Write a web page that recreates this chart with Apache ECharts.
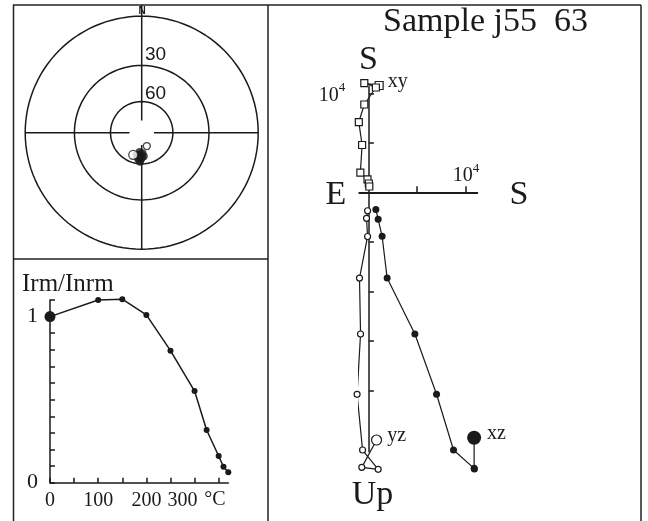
<!DOCTYPE html>
<html>
<head>
<meta charset="utf-8">
<script src="https://cdn.jsdelivr.net/npm/echarts@6/dist/echarts.min.js"></script>
<style>
html,body{margin:0;padding:0;background:#fff;}
#chart{width:648px;height:521px;}
</style>
</head>
<body>
<div id="chart"></div>
<script>
/* ---------- data ---------- */
// stereonet: declination / inclination (deg)
const stereoFilledDec = [178, 184, 190, 181, 187, 175, 193, 183, 180, 186];
const stereoFilledInc = [70, 68, 66, 65, 64, 67, 68, 62, 66, 71];
const stereoOpenDec = [159, 201];
const stereoOpenInc = [-76, -67];
const stereoCircleIncs = [0, 30, 60];

// thermal demagnetisation steps
const temps = [0, 100, 150, 200, 250, 300, 325, 350, 360, 370];
const irmRatio = [1.0, 1.10, 1.105, 1.01, 0.795, 0.552, 0.317, 0.161, 0.096, 0.063];
const irmTicksX = [0, 50, 100, 150, 200, 250, 300, 350];
const irmLabelsX = [0, 100, 200, 300];
const irmTicksY = [0, 0.1, 0.2, 0.3, 0.4, 0.5, 0.6, 0.7, 0.8, 0.9, 1.0, 1.1];
const irmLabelsY = [0, 1];

// Zijderveld components (same step order as temps)
const xyH = [1060, -480, 720, -480, -1050, -710, -890, -150, -10, 40];
const xyV = [10790, 11040, 10590, 8870, 7100, 4780, 2000, 1310, 890, 590];
const xzH = [10920, 10920, 10950, 8780, 7020, 4770, 1890, 1370, 960, 720];
const xzV = [-24790, -27880, -27950, -26030, -20400, -14310, -8660, -4440, -2730, -1740];
const yzH = [790, -740, 960, -660, -1230, -870, -980, -140, -250, -140];
const yzV = [-25020, -27780, -27980, -26030, -20400, -14310, -8660, -4460, -2630, -1860];
const zijTicksX = [5000, 10000];
const zijTicksY = [-20000, -15000, -10000, -5000, 5000, 10000];
const zijLabels = [10000];

/* ---------- helpers ---------- */
const serif = 'Liberation Serif';
const sans = 'Liberation Sans';
const ink = '#1a1a1a';
const R = 116.5;
function stereoR(inc){ return Math.tan((90 - Math.abs(inc)) / 2 * Math.PI / 180); }
function circle(inc){
  const r = stereoR(inc), pts = [];
  for(let a = 0; a <= 360; a += 3) pts.push([r, a]);
  return pts;
}
function pair(h, v){ return h.map((x, i) => [x, v[i]]); }
const supRich = {
  n:{fontFamily:serif, fontSize:20, color:ink, lineHeight:24, verticalAlign:'bottom'},
  s:{fontFamily:serif, fontSize:13, color:ink, lineHeight:24, verticalAlign:'top'}
};

/* ---------- series ---------- */
const series = [];
stereoCircleIncs.forEach(inc => {
  series.push({type:'line', coordinateSystem:'polar', data:circle(inc), showSymbol:false, silent:true,
    lineStyle:{color:ink, width:1.5}});
});
[[0, 1.1], [90, 1], [180, 1], [270, 1]].forEach(([a, r]) => {
  series.push({type:'line', coordinateSystem:'polar', data:[[0.105, a], [r, a]], showSymbol:false, silent:true,
    lineStyle:{color:ink, width:1.5}});
});
series.push({type:'scatter', coordinateSystem:'polar', symbolSize:8,
  data:stereoFilledDec.map((d, i) => [stereoR(stereoFilledInc[i]), d]),
  itemStyle:{color:ink}});
series.push({type:'scatter', coordinateSystem:'polar',
  data:stereoOpenDec.map((d, i) => ({value:[stereoR(stereoOpenInc[i]), d], symbolSize:i ? 9 : 7})),
  itemStyle:{color:'#fff', borderColor:ink, borderWidth:1.3}});

// Irm / Inrm
series.push({type:'line', xAxisIndex:0, yAxisIndex:0,
  data:temps.map((t, i) => i === 0 ? {value:[t, irmRatio[i]], symbolSize:11} : [t, irmRatio[i]]),
  symbol:'circle', symbolSize:6, clip:false,
  itemStyle:{color:ink}, lineStyle:{color:ink, width:1.5}});

// Zijderveld
function zijSeries(h, v, opt){
  const lbl = {show:true, formatter:opt.name, position:'right', distance:opt.dist, offset:[0, -4],
    fontFamily:serif, fontSize:20, color:ink};
  return {type:'line', xAxisIndex:1, yAxisIndex:1, clip:false, z:opt.z,
    symbol:opt.symbol, symbolSize:opt.size,
    data:pair(h, v).map((p, i) => i === 0 ? {value:p, symbolSize:opt.first, label:lbl} : p),
    itemStyle:opt.filled ? {color:ink} : {color:'#fff', borderColor:ink, borderWidth:1.2},
    lineStyle:{color:ink, width:1.2}};
}
series.push(zijSeries(xyH, xyV, {name:'xy', symbol:'rect', size:7, first:8, dist:4, filled:false, z:3}));
series.push(zijSeries(yzH, yzV, {name:'yz', symbol:'circle', size:6, first:10, dist:5, filled:false, z:3}));
series.push(zijSeries(xzH, xzV, {name:'xz', symbol:'circle', size:7, first:14, dist:6, filled:true, z:4}));

/* ---------- graphic (frame + texts) ---------- */
function seg(x1, y1, x2, y2){
  return {type:'line', shape:{x1, y1, x2, y2}, style:{stroke:'#222', lineWidth:1.5}, silent:true};
}
function txt(text, x, y, font, align, rich){
  return {type:'text', x, y, silent:true,
    style:{text, font, fill:ink, align:align || 'left', verticalAlign:'middle',
      textAlign:align || 'left', textVerticalAlign:'middle', rich}};
}
const graphic = [
  seg(13, 5, 641, 5), seg(13.5, 5, 13.5, 521), seg(268, 5, 268, 521),
  seg(13, 259, 268, 259), seg(641, 5, 641, 521),
  txt('N', 142, 11, 'bold 10px ' + sans, 'center'),
  txt('30', 145, 54.5, '19px ' + sans),
  txt('60', 145, 93.5, '19px ' + sans),
  txt('Irm/Inrm', 22, 284, '25px ' + serif),
  txt('°C', 215, 500, '20px ' + serif, 'center'),
  txt('{n|10}{s|4}', 466, 174, '20px ' + serif, 'center', supRich),
  txt('Sample j55  63', 383, 22, '34px ' + serif),
  txt('S', 368.5, 60.5, '34px ' + serif, 'center'),
  txt('E', 336, 195, '34px ' + serif, 'center'),
  txt('S', 519, 195, '34px ' + serif, 'center'),
  txt('Up', 351.7, 495, '34px ' + serif)
];

/* ---------- option ---------- */
const chart = echarts.init(document.getElementById('chart'), null, {renderer:'canvas'});
chart.setOption({
  animation:false,
  backgroundColor:'#fff',
  polar:{center:[141.7, 132.7], radius:R * 1.1},
  angleAxis:{type:'value', min:0, max:360, startAngle:90, clockwise:true, show:false},
  radiusAxis:{type:'value', min:0, max:1.1, show:false},
  grid:[
    {left:50, top:300, width:178.3, height:182.7},
    {left:359.3, top:86.7, width:118, height:365}
  ],
  xAxis:[
    {gridIndex:0, type:'value', min:0, max:370,
      axisLine:{lineStyle:{color:ink, width:1.5}},
      axisTick:{inside:true, length:5, customValues:irmTicksX, lineStyle:{color:ink, width:1.5}},
      axisLabel:{customValues:irmLabelsX, fontFamily:serif, fontSize:20, color:ink, margin:8,
        formatter:v => v === 300 ? '{r|300}' : String(v),
        rich:{r:{fontFamily:serif, fontSize:20, color:ink, padding:[0, 24, 0, 0]}}},
      splitLine:{show:false}},
    {gridIndex:1, type:'value', min:-1000, max:11250,
      axisLine:{onZero:true, lineStyle:{color:ink, width:2}},
      axisTick:{inside:true, length:6, customValues:zijTicksX, lineStyle:{color:ink, width:1.5}},
      axisLabel:{show:false},
      splitLine:{show:false}}
  ],
  yAxis:[
    {gridIndex:0, type:'value', min:0, max:1.1,
      axisLine:{show:true, lineStyle:{color:ink, width:1.5}},
      axisTick:{show:true, inside:true, length:5, customValues:irmTicksY, lineStyle:{color:ink, width:1.5}},
      axisLabel:{customValues:irmLabelsY, fontFamily:serif, fontSize:22, color:ink, margin:12},
      splitLine:{show:false}},
    {gridIndex:1, type:'value', min:-26200, max:10670,
      axisLine:{show:true, onZero:true, lineStyle:{color:ink, width:1.5}},
      axisTick:{show:true, inside:true, length:5, customValues:zijTicksY, lineStyle:{color:ink, width:1.5}},
      axisLabel:{customValues:zijLabels, formatter:() => '{n|10}{s|4}', rich:supRich, margin:14},
      splitLine:{show:false}}
  ],
  series,
  graphic
});
</script>
</body>
</html>
